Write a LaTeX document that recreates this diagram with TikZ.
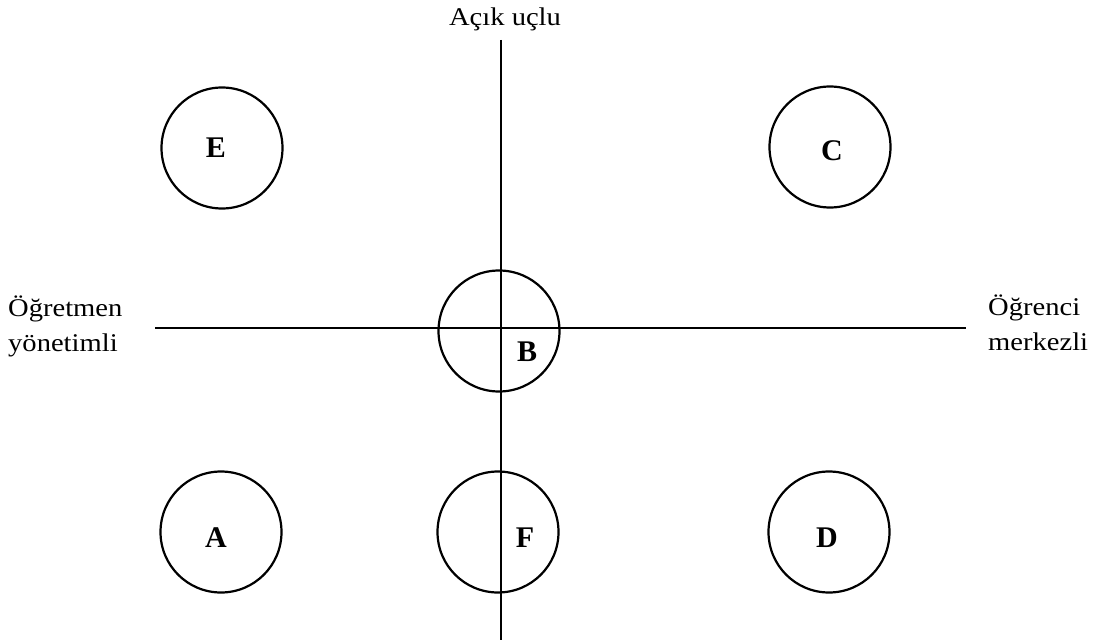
\documentclass[tikz,border=0pt]{standalone}
\usepackage{fontspec}
\setmainfont{Liberation Serif}
\newfontfamily\widefont{Liberation Serif}[FakeStretch=1.12]
\begin{document}
\begin{tikzpicture}[x=1pt,y=-1pt,
  ring/.style={circle, draw, line width=2.2pt, minimum size=121pt, inner sep=0pt},
  lbl/.style={font=\bfseries\fontsize{30}{30}\selectfont, inner sep=0pt, anchor=center},
  axisline/.style={line width=2pt},
  sidetext/.style={font=\widefont\fontsize{25.5}{35}\selectfont, align=left, inner sep=0pt, anchor=north west}
]
\useasboundingbox (0,0) rectangle (1099,644);
% axes
\coordinate (top) at (501,40);
\coordinate (bot) at (501,640);
\coordinate (lft) at (155,328);
\coordinate (rgt) at (966,328);
\draw[axisline] (top) -- (bot);
\draw[axisline] (lft) -- (rgt);
% circles
\node[ring] (E) at (222,148) {};
\node[ring] (C) at (830,147) {};
\node[ring] (B) at (499,331) {};
\node[ring] (A) at (221,532) {};
\node[ring] (F) at (498,532) {};
\node[ring] (D) at (829,532) {};
% circle labels
\node[lbl] (Elbl) at (216,148) {E};
\node[lbl] (Clbl) at (832,151) {C};
\node[lbl] (Blbl) at (527,352) {B};
\node[lbl] (Albl) at (216,538) {A};
\node[lbl] (Flbl) at (525,538) {F};
\node[lbl] (Dlbl) at (827,538) {D};
% axis texts
\node[font=\widefont\fontsize{25.5}{30}\selectfont, inner sep=0pt, anchor=base] (acik) at (505,26) {Açık uçlu};
\node[sidetext] (ogretmen) at (8,296) {Öğretmen\\yönetimli};
\node[sidetext] (ogrenci) at (988,295) {Öğrenci\\merkezli};
\end{tikzpicture}
\end{document}
